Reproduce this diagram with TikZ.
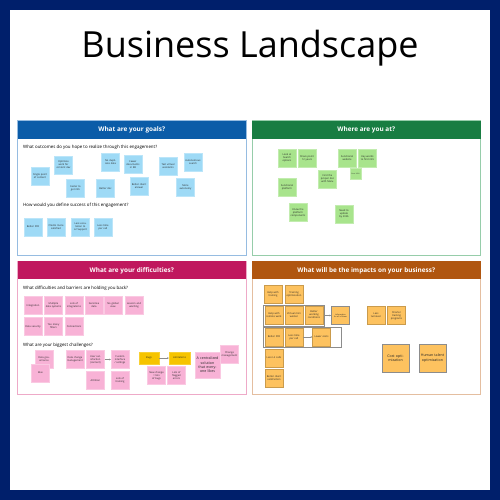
\documentclass[tikz,border=0pt]{standalone}
\usepackage{fontspec}
\setmainfont{Open Sans}
\usetikzlibrary{arrows.meta}
\definecolor{navy}{RGB}{0,31,107}
\definecolor{hblue}{RGB}{11,92,168}
\definecolor{lblue}{RGB}{150,188,225}
\definecolor{hgreen}{RGB}{24,125,66}
\definecolor{lgreen}{RGB}{150,205,170}
\definecolor{hpink}{RGB}{192,24,94}
\definecolor{lpink}{RGB}{238,170,200}
\definecolor{horange}{RGB}{176,86,16}
\definecolor{lorange}{RGB}{228,190,160}
\definecolor{sblue}{RGB}{158,218,246}
\definecolor{sgreen}{RGB}{168,228,140}
\definecolor{spink}{RGB}{248,178,214}
\definecolor{sorange}{RGB}{253,194,95}
\definecolor{syellow}{RGB}{246,196,0}
\tikzset{
  panel/.style={draw=#1, line width=1pt, fill=white},
  header/.style={fill=#1, draw=none},
  htext/.style={text=white, font=\bfseries\fontsize{6.4}{7.5}\selectfont},
  qtext/.style={anchor=west, inner sep=0pt, font=\fontsize{4.4}{5}\selectfont, text=black},
  sticky/.style={minimum width=18pt, minimum height=18pt, inner sep=0.3pt,
    text width=16pt, align=center, font=\fontsize{2.5}{3}\selectfont, text=black!85},
  bnote/.style={sticky, fill=sblue, draw=sblue!70!white, line width=0.4pt},
  gnote/.style={sticky, fill=sgreen, draw=sgreen!70!white, line width=0.4pt},
  pnote/.style={sticky, fill=spink, draw=spink!70!white, line width=0.4pt},
  onote/.style={sticky, fill=sorange, draw=sorange!80!black, line width=0.4pt},
  ynote/.style={sticky, fill=syellow, draw=syellow!80!white, minimum height=12pt, minimum width=20pt, text width=19pt},
  bignote/.style={minimum width=27pt, minimum height=28pt, text width=25pt, font=\fontsize{3.6}{4.3}\selectfont},
  group/.style={draw=black!45, line width=0.9pt},
  link/.style={draw=black!45, line width=0.5pt, -{Stealth[length=1.6pt,width=1.6pt]}}
}
\begin{document}
\begin{tikzpicture}[x=1pt,y=-1pt]
\useasboundingbox (0,0) rectangle (500,500);
% frame
\fill[navy] (0,0) rectangle (500,500);
\fill[white] (10,10) rectangle (490,490);
\node[font=\fontsize{36}{40}\selectfont, text=black] (title) at (250,48) {Business Landscape};

% ---- goals ----
\draw[panel=lblue] (17.5,120.5) rectangle (246,255);
\fill[header=hblue] (17.5,120.5) rectangle (246,139);
\node[htext] (hgoals) at (131.75,130) {What are your goals?};
\node[qtext] (q1) at (23,147) {What outcomes do you hope to realize through this engagement?};
\node[bnote] (g1) at (40,176) {Single point of content};
\node[bnote] (g2) at (63.5,165) {Optimize work for content dev};
\node[bnote] (g3) at (75.5,188.5) {Faster to get info};
\node[bnote] (g4) at (110.5,162) {No duplicate data};
\node[bnote] (g5) at (105.5,188.5) {Better doc};
\node[bnote] (g6) at (133,164.5) {Fewer documents in KB};
\node[bnote] (g7) at (139,186) {Better client answer};
\node[bnote] (g8) at (168,166) {Test virtual assistants};
\node[bnote] (g9) at (193,162) {Autonomous search};
\node[bnote] (g10) at (185.5,187.5) {More autonomy};
\node[qtext] (q2) at (23,205) {How would you define success of this engagement?};
\node[bnote] (g11) at (33,227) {Better FCR};
\node[bnote] (g12) at (56,227) {Clients more satisfied};
\node[bnote] (g13) at (80.5,227) {Less escalation to L2 Support};
\node[bnote] (g14) at (103,227) {Less time per call};

% ---- where are you at ----
\draw[panel=lgreen] (252,120.5) rectangle (480.5,255);
\fill[header=hgreen] (252,120.5) rectangle (480.5,139);
\node[htext] (hwhere) at (366.25,130) {Where are you at?};
\node[gnote] (w1) at (287,158) {Look at Search options};
\node[gnote] (w2) at (307,158) {Share point 12 years};
\node[gnote] (w3) at (347,158) {Functional website};
\node[gnote] (w4) at (367.5,158) {Key words to find info};
\node[gnote, minimum width=11pt, minimum height=11pt, text width=10pt, font=\fontsize{1.6}{2}\selectfont] (w5) at (355.5,173.5) {Since 2020};
\node[gnote] (w6) at (327.5,179) {Find the proper doc with Maru};
\node[gnote] (w7) at (287,187) {Functional platform};
\node[gnote] (w8) at (298,212.5) {Know the platform components};
\node[gnote] (w9) at (344,214) {Need to update by 2026};

% ---- difficulties ----
\draw[panel=lpink] (17.5,261) rectangle (246,394);
\fill[header=hpink] (17.5,261) rectangle (246,279);
\node[htext] (hdiff) at (131.75,270.5) {What are your difficulties?};
\node[qtext] (q3) at (23,288) {What difficulties and barriers are holding you back?};
\node[pnote] (d1) at (33,305.5) {Integration};
\node[pnote] (d2) at (53.5,305.5) {Multiple data systems};
\node[pnote] (d3) at (74,305.5) {Lots of integrations};
\node[pnote] (d4) at (94,305.5) {Sensitive data};
\node[pnote] (d5) at (113,305.5) {No global view};
\node[pnote] (d6) at (134,305.5) {Lexicon and wording};
\node[pnote] (d7) at (33,326.5) {Data security};
\node[pnote] (d8) at (53.5,326.5) {Too many filters};
\node[pnote] (d9) at (74,326.5) {Connections};
\node[qtext] (q4) at (23,345) {What are your biggest challenges?};
\node[pnote] (c1) at (44,359.5) {Data governance};
\node[pnote] (c2) at (40.5,373) {Bias};
\node[pnote] (c3) at (75,359.5) {Data change management};
\node[pnote] (c4) at (95.5,359.5) {User satisfaction (content)};
\node[pnote] (c5) at (120,359.5) {Custom interface / settings};
\node[pnote] (c6) at (95.5,380.5) {Attrition};
\node[pnote] (c7) at (120,380.5) {Lots of training};
\node[ynote] (y1) at (149,358) {Bugs};
\node[ynote, minimum width=21pt] (y2) at (179.5,358) {Limitations};
\node[pnote] (c8) at (156.5,375.5) {New change = lots of bugs};
\node[pnote] (c9) at (176.5,375.5) {Lots of flagged errors};
\node[pnote, bignote, minimum width=25pt, minimum height=26pt, text width=24pt] (c10) at (207.5,365) {A centralized solution that everyone likes};
\node[pnote] (c11) at (229.5,354.5) {Change management};
\draw[link] (c4) -- (c5);
\draw[link] (y1) -- (y2);

% ---- impacts ----
\draw[panel=lorange] (252,261) rectangle (480.5,394);
\fill[header=horange] (252,261) rectangle (480.5,279);
\node[htext] (himp) at (366.25,270.5) {What will be the impacts on your business?};
\node[onote] (o1) at (273,294.5) {Help with training};
\node[onote] (o2) at (294,294.5) {Training optimization};
\node[group, minimum width=61pt, minimum height=21pt] (grp1) at (293.5,315.5) {};
\node[onote] (o3) at (274,315.5) {Help with remote work};
\node[onote] (o4) at (294,315.5) {Virtual mini worker};
\node[onote] (o5) at (314,315) {Better working conditions};
\node[onote, draw=black!45, line width=0.9pt, font=\fontsize{1.9}{2.3}\selectfont] (o6) at (340.5,315.5) {Information for all of them};
\node[group, minimum width=78pt, minimum height=20pt] (grp2) at (302,337) {};
\node[onote] (o7) at (274,337) {Better FCR};
\node[onote] (o8) at (294,337) {Less time per call};
\node[onote] (o9) at (321.5,337) {Lower costs};
\node[onote] (o10) at (274,358) {Less L2 calls};
\node[onote] (o11) at (274,378) {Better client satisfaction};
\node[onote] (o12) at (376,315.5) {Less turnover};
\node[onote] (o13) at (396.5,315.5) {Shorter training programs};
\node[onote, bignote, draw=black!45, line width=0.7pt] (o14) at (395.5,358) {Cost optimization};
\node[onote, bignote, draw=black!45, line width=0.7pt] (o15) at (432.5,358) {Human talent optimization};
\draw[link] (grp1) -- (o6);
\draw[link] (o8) -- (o9);
\end{tikzpicture}
\end{document}
